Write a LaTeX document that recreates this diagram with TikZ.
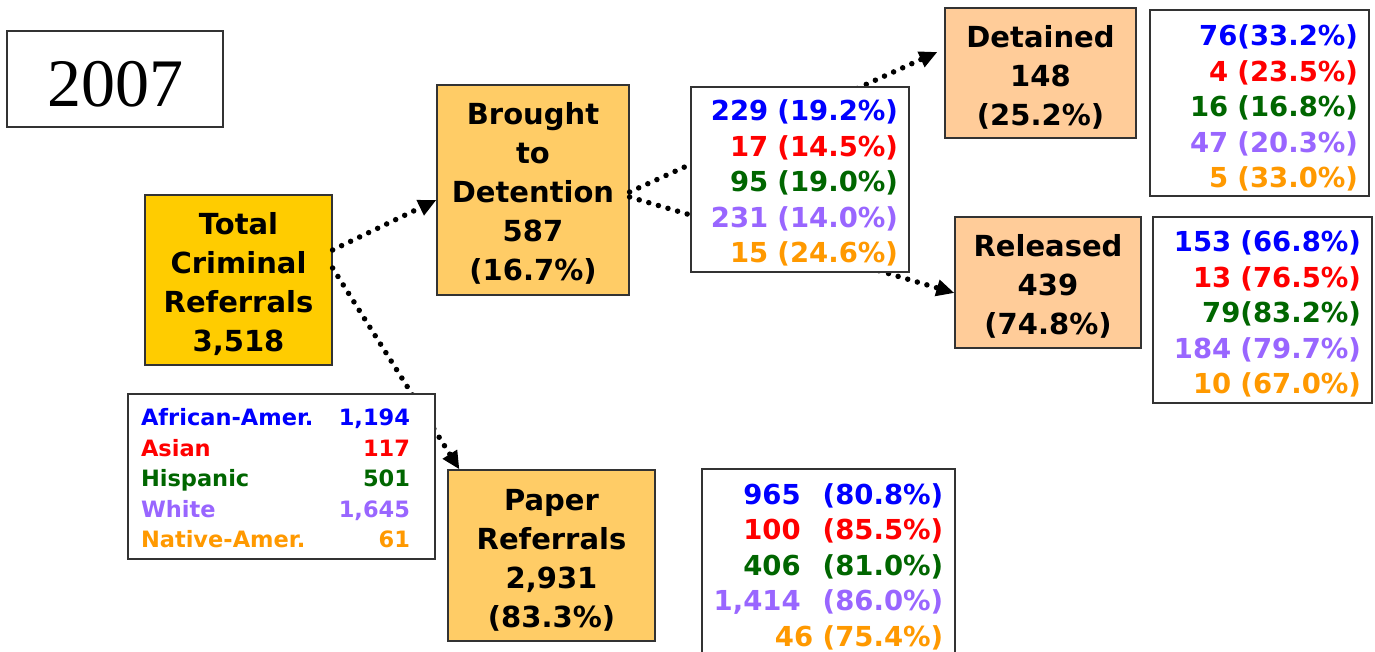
\documentclass[tikz,border=0pt]{standalone}
\usepackage{fontspec}
\setmainfont{DejaVu Sans}
\newfontfamily\yearfont{Liberation Serif}
\usetikzlibrary{arrows.meta}

\definecolor{gold}{HTML}{FFCC00}
\definecolor{lightorange}{HTML}{FFCC66}
\definecolor{peach}{HTML}{FFCC99}
\definecolor{afam}{HTML}{0000FF}
\definecolor{asian}{HTML}{FF0000}
\definecolor{hisp}{HTML}{006600}
\definecolor{wht}{HTML}{9966FF}
\definecolor{native}{HTML}{FF9900}

% invisible strut that pushes the first line down a little
\newcommand{\firststrut}[1]{\rule{0pt}{#1}}

\begin{document}
\begin{tikzpicture} [x = 1pt, y = -1pt,
    flowbox/.style = {draw = black!80, line width = 1.2pt, align = center, inner sep = 0pt,
        font = \fontsize{29}{39}\selectfont\bfseries},
    tablebox/.style = {draw = black!80, line width = 1.2pt, fill = white, inner xsep = 11pt,
        inner ysep = 0pt, align = right, font = \fontsize{27.5}{35.5}\selectfont\bfseries},
    dotarrow/.style = {line width = 5.5pt, dash pattern = on 0pt off 10pt, line cap = round,
        -{Triangle[length = 18pt, width = 16pt]}}]

\useasboundingbox (0,0) rectangle (1375,652);

\node (year) [draw = black!80, line width = 1.2pt, minimum width = 216pt, minimum height = 96pt,
    inner sep = 0pt, font = \yearfont\fontsize{68}{68}\selectfont] at (115,79) {\firststrut{56pt}2007};

\node (total) [flowbox, fill = gold, minimum width = 187pt, minimum height = 170pt] at (238.5,280)
    {\firststrut{31pt}Total\\Criminal\\Referrals\\3,518};
\node (brought) [flowbox, fill = lightorange, minimum width = 192pt, minimum height = 210pt] at (533,190)
    {\firststrut{28pt}Brought\\to\\Detention\\587\\(16.7\%)};
\node (detained) [flowbox, fill = peach, minimum width = 191pt, minimum height = 130pt] at (1040.5,73)
    {\firststrut{30pt}Detained\\148\\(25.2\%)};
\node (released) [flowbox, fill = peach, minimum width = 186pt, minimum height = 131pt] at (1048,282.5)
    {\firststrut{30pt}Released\\439\\(74.8\%)};
\node (paper) [flowbox, fill = lightorange, minimum width = 207pt, minimum height = 171pt] at (551.5,555.5)
    {\firststrut{31pt}Paper\\Referrals\\2,931\\(83.3\%)};

\path [dotarrow]
    ([yshift = 30pt]total.east) edge ([yshift = -10pt]brought.west);
\path [dotarrow]
    ([yshift = 12pt]total.east) edge ([xshift = 12pt]paper.north west);
\path [dotarrow]
    ([yshift = -2pt]brought.east) edge ([xshift = -7pt, yshift = 21pt]detained.west);
\path [dotarrow]
    ([yshift = -7pt]brought.east) edge ([yshift = -10.5pt]released.west);

\node (brtab) [tablebox, text width = 196pt, minimum height = 185pt] at (800,179.5)
    {\firststrut{28pt}\textcolor{afam}{229 (19.2\%)}\\\textcolor{asian}{17 (14.5\%)}\\\textcolor{hisp}{95 (19.0\%)}\\
     \textcolor{wht}{231 (14.0\%)}\\\textcolor{native}{15 (24.6\%)}};
\node (dettab) [tablebox, text width = 197pt, minimum height = 186pt] at (1259.5,103)
    {\firststrut{31pt}\textcolor{afam}{76(33.2\%)}\\\textcolor{asian}{4 (23.5\%)}\\\textcolor{hisp}{16 (16.8\%)}\\
     \textcolor{wht}{47 (20.3\%)}\\\textcolor{native}{5 (33.0\%)}};
\node (reltab) [tablebox, text width = 197pt, minimum height = 186pt] at (1262.5,310)
    {\firststrut{29pt}\textcolor{afam}{153 (66.8\%)}\\\textcolor{asian}{13 (76.5\%)}\\\textcolor{hisp}{79(83.2\%)}\\
     \textcolor{wht}{184 (79.7\%)}\\\textcolor{native}{10 (67.0\%)}};

\node (racetab) [draw = black!80, line width = 1.2pt, fill = white, inner xsep = 13pt, inner ysep = 0pt,
    minimum height = 165pt, font = \fontsize{22.5}{30.5}\selectfont\bfseries] at (281.5,476.5)
    {\begin{tabular*}{281pt}{@{}l@{\extracolsep{\fill}}r@{\hspace{12pt}}}
     \firststrut{29.5pt}\textcolor{afam}{African-Amer.} & \textcolor{afam}{1,194}\\
     \textcolor{asian}{Asian} & \textcolor{asian}{117}\\
     \textcolor{hisp}{Hispanic} & \textcolor{hisp}{501}\\
     \textcolor{wht}{White} & \textcolor{wht}{1,645}\\
     \textcolor{native}{Native-Amer.} & \textcolor{native}{61}
     \end{tabular*}};

\node (papertab) [draw = black!80, line width = 1.2pt, fill = white, inner sep = 0pt,
    minimum width = 253pt, minimum height = 190pt, font = \fontsize{27.5}{35.5}\selectfont\bfseries] at (828.5,564)
    {\begin{tabular}{@{}r@{\hspace{22pt}}r@{}}
     \firststrut{33pt}\textcolor{afam}{965} & \textcolor{afam}{(80.8\%)}\\
     \textcolor{asian}{100} & \textcolor{asian}{(85.5\%)}\\
     \textcolor{hisp}{406} & \textcolor{hisp}{(81.0\%)}\\
     \textcolor{wht}{1,414} & \textcolor{wht}{(86.0\%)}\\
     \multicolumn{2}{@{}r@{}}{\textcolor{native}{46 (75.4\%)}}
     \end{tabular}};
\end{tikzpicture}
\end{document}
